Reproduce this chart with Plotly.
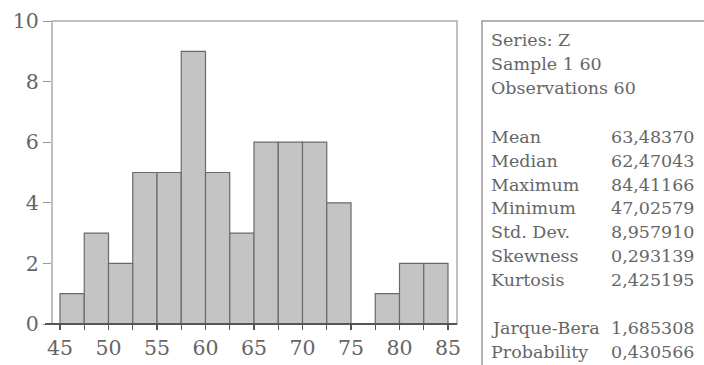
import plotly.graph_objects as go

bin_edges = [45.0, 47.5, 50.0, 52.5, 55.0, 57.5, 60.0, 62.5, 65.0, 67.5, 70.0, 72.5, 75.0, 77.5, 80.0, 82.5, 85.0]
counts = [1, 3, 2, 5, 5, 9, 5, 3, 6, 6, 6, 4, 0, 1, 2, 2]
y_ticks = [0, 2, 4, 6, 8, 10]
x_label_ticks = [45, 50, 55, 60, 65, 70, 75, 80, 85]

header_lines = ["Series: Z", "Sample 1 60", "Observations 60"]
stat_names = ["Mean", "Median", "Maximum", "Minimum", "Std. Dev.", "Skewness", "Kurtosis"]
stat_values = ["63,48370", "62,47043", "84,41166", "47,02579", "8,957910", "0,293139", "2,425195"]
test_names = ["Jarque-Bera", "Probability"]
test_values = ["1,685308", "0,430566"]

W, H = 704, 365
L, R, T, B = 52, 457, 21, 324

centers = [(a + b) / 2 for a, b in zip(bin_edges[:-1], bin_edges[1:])]
widths = [b - a for a, b in zip(bin_edges[:-1], bin_edges[1:])]

FONT = "DejaVu Serif"
TXT = "#666666"

fig = go.Figure()
fig.add_trace(go.Bar(x=centers, y=counts, width=widths,
                     marker=dict(color="#c4c4c4", line=dict(color="#6a6a6a", width=1.2)),
                     showlegend=False, hoverinfo="skip"))

xr = [45 - (60 - L) / 9.7, 85 + (R - 448) / 9.7]
fig.update_xaxes(range=xr, tickvals=bin_edges,
                 ticktext=[str(int(v)) if v in x_label_ticks else "" for v in bin_edges],
                 ticks="outside", ticklen=5, tickcolor="#555555", tickwidth=1.2,
                 showgrid=False, zeroline=False, showline=False, automargin=False,
                 tickfont=dict(family=FONT, size=20.5, color=TXT))
fig.update_yaxes(range=[0, 10], tickvals=y_ticks, ticks="outside", ticklen=8,
                 tickcolor="#999999", showgrid=False, zeroline=False, automargin=False,
                 showline=False, tickfont=dict(family=FONT, size=20.5, color=TXT))

# frame
fig.add_shape(type="rect", xref="paper", yref="paper", x0=0, x1=1, y0=0, y1=1,
              line=dict(color="#aaaaaa", width=1.5), layer="below")
fig.add_shape(type="line", xref="paper", yref="paper", x0=(45 - L) / (R - L), x1=1, y0=0, y1=0,
              line=dict(color="#555555", width=2))

def px(x):
    return (x - L) / (R - L)

def py(y):
    return (B - y) / (B - T)

# stats box
fig.add_shape(type="rect", xref="paper", yref="paper", x0=px(482), x1=px(720), y0=py(390), y1=py(21),
              line=dict(color="#999999", width=1.5))

line_h = 23.8
LX, VX = 489, 609

def add_text(x, y, t):
    fig.add_annotation(x=px(x), y=py(y), xref="paper", yref="paper", text=t, showarrow=False,
                       xanchor="left", yanchor="middle", font=dict(family=FONT, size=17.5, color=TXT))

for i, t in enumerate(header_lines):
    add_text(LX, 40 + i * line_h, t)
for i, (n, v) in enumerate(zip(stat_names, stat_values)):
    y = 137 + i * line_h
    add_text(LX, y, n)
    add_text(VX, y, v)
for i, (n, v) in enumerate(zip(test_names, test_values)):
    y = 328 + i * line_h
    add_text(LX, y, n)
    add_text(VX, y, v)

fig.update_layout(width=W, height=H,
                  margin=dict(l=L, r=W - R, t=T, b=H - B, autoexpand=False),
                  paper_bgcolor="white", plot_bgcolor="white", bargap=0)
fig.write_html("out.html", config={"displayModeBar": False, "staticPlot": True},
               post_script="document.body.style.margin='0';document.body.style.overflow='hidden';")
